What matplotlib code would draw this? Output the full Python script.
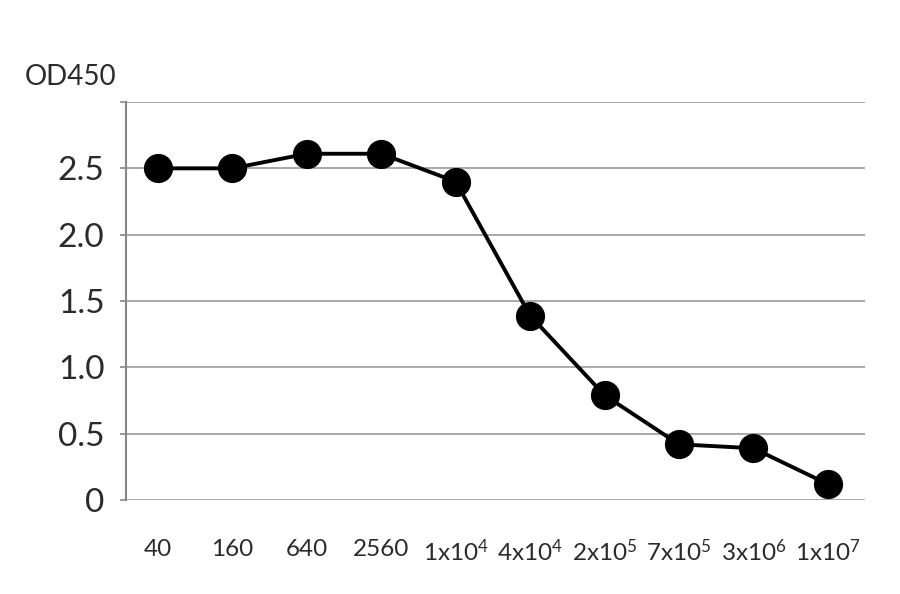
import matplotlib
matplotlib.use('Agg')
import matplotlib.pyplot as plt

plt.rcParams['font.family'] = ['Lato', 'DejaVu Sans']
plt.rcParams['mathtext.fontset'] = 'custom'
plt.rcParams['mathtext.rm'] = 'Lato'

# dilutions and OD450 readings
dilutions = ['40', '160', '640', '2560', r'$\mathregular{1x10^4}$', r'$\mathregular{4x10^4}$',
             r'$\mathregular{2x10^5}$', r'$\mathregular{7x10^5}$', r'$\mathregular{3x10^6}$',
             r'$\mathregular{1x10^7}$']
od450 = [2.5, 2.5, 2.61, 2.61, 2.40, 1.39, 0.79, 0.42, 0.39, 0.12]
yticks = [0, 0.5, 1.0, 1.5, 2.0, 2.5, 3.0]
ylabels = ['0', '0.5', '1.0', '1.5', '2.0', '2.5', '']

fig = plt.figure(figsize=(9, 5.94), dpi=100)
ax = fig.add_axes([126/900, 1-500/594, 739/900, 398/594])

x = list(range(len(od450)))
ax.plot(x, od450, color='black', lw=2.8, marker='o', ms=20, zorder=3)

ax.set_ylim(0, 3.0)
ax.set_xlim(-0.43, 9.5)
ax.set_yticks(yticks)
ax.set_yticklabels(ylabels, fontsize=24, color='#2b2b2b')
ax.set_xticks(x)
ax.set_xticklabels(dilutions, fontsize=17.5, color='#2b2b2b')
ax.tick_params(axis='x', length=0, pad=28)
ax.tick_params(axis='y', length=4.5, color='#888888', width=1.2, pad=11)
ax.yaxis.grid(True, color='#999999', lw=1.2)
ax.set_axisbelow(True)
for s in ['top', 'right', 'bottom']:
    ax.spines[s].set_visible(False)
ax.spines['left'].set_color('#888888')
ax.spines['left'].set_linewidth(1.5)

fig.text(25/900, 1-77/594, 'OD450', fontsize=20, color='#2b2b2b', va='center')

fig.savefig('out.png', dpi=100)
